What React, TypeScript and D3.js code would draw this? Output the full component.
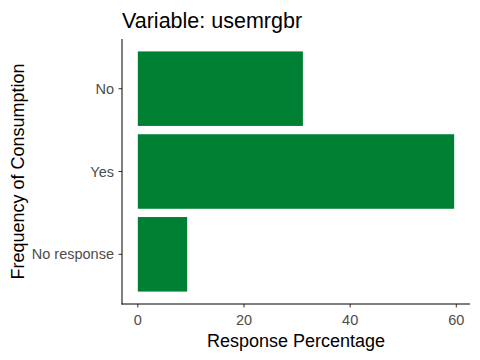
import React from "react";
import * as d3 from "d3";

const categories = ["No", "Yes", "No response"];
const values = [31.1, 59.6, 9.3];
const xTicks = [0, 20, 40, 60];
const title = "Variable: usemrgbr";
const xTitle = "Response Percentage";
const yTitle = "Frequency of Consumption";

export default function App() {
  const W = 480, H = 360;
  const left = 122, right = 470, top = 39, bottom = 304;
  const maxV = d3.max(values) as number;
  const x = d3.scaleLinear().domain([-maxV * 0.05, maxV * 1.05]).range([left, right]);
  const step = (bottom - top) / (categories.length - 1 + 1.2);
  const yc = (i: number) => top + (0.6 + i) * step;
  const bw = step * 0.9;
  const font = "'Liberation Sans', Arial, sans-serif";
  return (
    <svg width={W} height={H} style={{ position: "absolute", left: 0, top: 0 }} fontFamily={font}>
      <rect width={W} height={H} fill="#fff" />
      <text x={left} y={28} fontSize={21.5} fill="#000">{title}</text>
      {categories.map((c, i) => (
        <g key={c}>
          <rect x={x(0)} y={yc(i) - bw / 2} width={x(values[i]) - x(0)} height={bw} fill="#008033" />
          <line x1={left - 3.5} x2={left} y1={yc(i)} y2={yc(i)} stroke="#333" strokeWidth={1} />
          <text x={left - 8} y={yc(i)} dy="0.35em" textAnchor="end" fontSize={14.5} fill="#4d4d4d">{c}</text>
        </g>
      ))}
      {xTicks.map(t => (
        <g key={t}>
          <line x1={x(t)} x2={x(t)} y1={bottom} y2={bottom + 3.5} stroke="#333" strokeWidth={1} />
          <text x={x(t)} y={bottom + 21} textAnchor="middle" fontSize={14.5} fill="#4d4d4d">{t}</text>
        </g>
      ))}
      <line x1={left} x2={left} y1={top} y2={bottom + 0.5} stroke="#000" strokeWidth={1} />
      <line x1={left - 0.5} x2={right} y1={bottom} y2={bottom} stroke="#000" strokeWidth={1} />
      <text x={(left + right) / 2} y={347} textAnchor="middle" fontSize={18} fill="#000">{xTitle}</text>
      <text transform={`translate(24,${(top + bottom) / 2}) rotate(-90)`} textAnchor="middle" fontSize={18} fill="#000">{yTitle}</text>
    </svg>
  );
}
